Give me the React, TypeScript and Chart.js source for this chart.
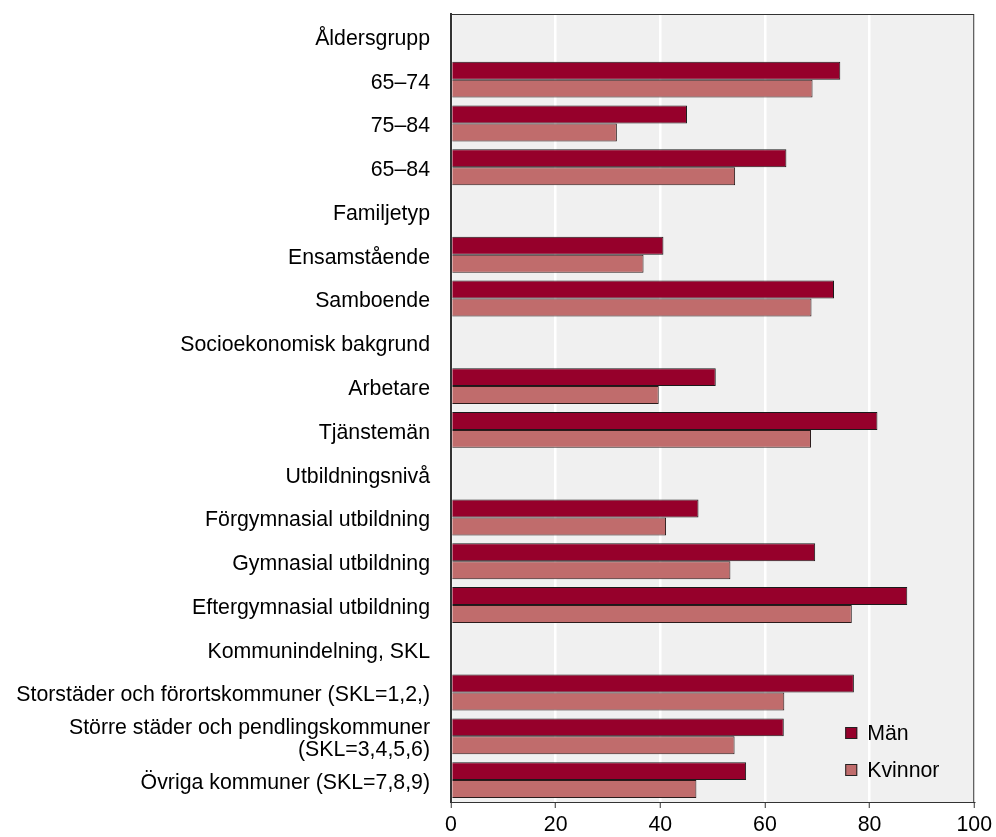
import React, { useEffect, useRef } from "react";
import { Chart, registerables } from "chart.js";

Chart.register(...registerables);

const categories: (string | string[])[] = [
  "Åldersgrupp",
  "65–74",
  "75–84",
  "65–84",
  "Familjetyp",
  "Ensamstående",
  "Samboende",
  "Socioekonomisk bakgrund",
  "Arbetare",
  "Tjänstemän",
  "Utbildningsnivå",
  "Förgymnasial utbildning",
  "Gymnasial utbildning",
  "Eftergymnasial utbildning",
  "Kommunindelning, SKL",
  "Storstäder och förortskommuner (SKL=1,2,)",
  ["Större städer och pendlingskommuner", "(SKL=3,4,5,6)"],
  "Övriga kommuner (SKL=7,8,9)",
];

const man: (number | null)[] = [
  null, 74.4, 45.1, 64.1,
  null, 40.6, 73.2,
  null, 50.6, 81.5,
  null, 47.3, 69.6, 87.2,
  null, 77.0, 63.6, 56.4,
];

const kvinnor: (number | null)[] = [
  null, 69.1, 31.7, 54.3,
  null, 36.8, 68.9,
  null, 39.7, 68.8,
  null, 41.1, 53.4, 76.6,
  null, 63.7, 54.2, 46.9,
];

const seriesNames = ["Män", "Kvinnor"];
const seriesColors = ["#96002b", "#c06c6c"];
const xTicks = [0, 20, 40, 60, 80, 100];

const FONT = "'Liberation Sans', Arial, sans-serif";
const FS = 21.3;

const bgPlugin = {
  id: "bgPlugin",
  beforeDraw(chart: any) {
    const { ctx, chartArea } = chart;
    ctx.save();
    ctx.fillStyle = "#f0f0f0";
    ctx.fillRect(chartArea.left, chartArea.top, chartArea.right - chartArea.left, chartArea.bottom - chartArea.top);
    ctx.restore();
  },
  afterDraw(chart: any) {
    const { ctx, chartArea } = chart;
    ctx.save();
    ctx.strokeStyle = "#333";
    ctx.lineWidth = 1;
    ctx.strokeRect(chartArea.left + 0.5, chartArea.top + 0.5, chartArea.right - chartArea.left - 1, chartArea.bottom - chartArea.top);
    // legend
    const offsets = [-69, -32];
    chart.data.datasets.forEach((ds: any, i: number) => {
      const cy = chartArea.bottom + offsets[i];
      const sx = chartArea.right - 129;
      ctx.fillStyle = ds.backgroundColor;
      ctx.fillRect(sx, cy - 6, 12, 12);
      ctx.strokeStyle = "#222";
      ctx.strokeRect(sx + 0.5, cy - 5.5, 11, 11);
      ctx.fillStyle = "#000";
      ctx.font = `${FS}px ${FONT}`;
      ctx.textBaseline = "middle";
      ctx.textAlign = "left";
      ctx.fillText(ds.label, sx + 22, cy + 1);
    });
    ctx.restore();
  },
};

export default function App() {
  const ref = useRef<HTMLCanvasElement>(null);
  useEffect(() => {
    if (!ref.current) return;
    const chart = new Chart(ref.current, {
      type: "bar",
      data: {
        labels: categories as any,
        datasets: [
          {
            label: seriesNames[0],
            data: man,
            backgroundColor: seriesColors[0],
            borderColor: "#1a1a1a",
            borderWidth: 1,
            barPercentage: 1,
            categoryPercentage: 0.82,
          },
          {
            label: seriesNames[1],
            data: kvinnor,
            backgroundColor: seriesColors[1],
            borderColor: "#2a1a1a",
            borderWidth: 1,
            barPercentage: 1,
            categoryPercentage: 0.82,
          },
        ],
      },
      options: {
        indexAxis: "y",
        animation: false,
        responsive: true,
        maintainAspectRatio: false,
        layout: { padding: { top: 14, right: 20, left: 0, bottom: 0 } },
        plugins: {
          legend: { display: false },
          tooltip: { enabled: false },
        },
        scales: {
          x: {
            min: 0,
            max: 100,
            afterBuildTicks: (scale: any) => {
              scale.ticks = xTicks.map((v) => ({ value: v }));
            },
            afterFit: (scale: any) => {
              scale.height = 35;
            },
            grid: {
              color: "#ffffff",
              lineWidth: 2.5,
              tickColor: "#333",
              tickLength: 6,
              tickWidth: 1,
            },
            border: { display: true, color: "#333", width: 1 },
            ticks: {
              color: "#000",
              font: { family: FONT, size: FS },
              padding: 4,
              maxRotation: 0,
            },
          },
          y: {
            afterFit: (scale: any) => {
              scale.width = 451;
              scale.paddingTop = 0;
              scale.paddingBottom = 0;
            },
            grid: { display: false, drawTicks: false },
            border: { display: true, color: "#333", width: 2 },
            ticks: {
              color: "#000",
              font: { family: FONT, size: FS, lineHeight: 1.05 },
              padding: 21,
              labelOffset: 3,
              autoSkip: false,
            },
          },
        },
      },
      plugins: [bgPlugin],
    });
    return () => chart.destroy();
  }, []);
  return (
    <div style={{ position: "fixed", left: 0, top: 0, width: 996, height: 837, background: "#fff" }}>
      <canvas ref={ref} />
    </div>
  );
}
